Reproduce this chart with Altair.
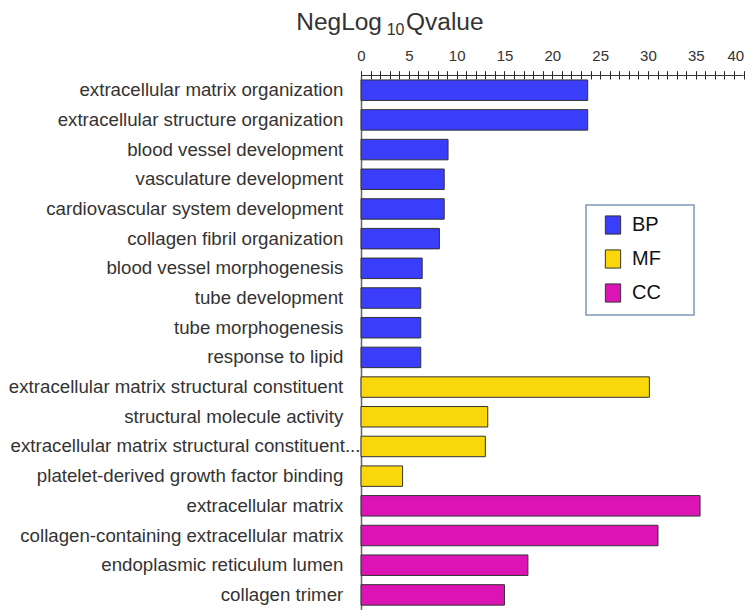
import altair as alt
import pandas as pd

terms = [
    "extracellular matrix organization",
    "extracellular structure organization",
    "blood vessel development",
    "vasculature development",
    "cardiovascular system development",
    "collagen fibril organization",
    "blood vessel morphogenesis",
    "tube development",
    "tube morphogenesis",
    "response to lipid",
    "extracellular matrix structural constituent",
    "structural molecule activity",
    "extracellular matrix structural constituent...",
    "platelet-derived growth factor binding",
    "extracellular matrix",
    "collagen-containing extracellular matrix",
    "endoplasmic reticulum lumen",
    "collagen trimer",
]
values = [23.7, 23.7, 9.1, 8.7, 8.7, 8.2, 6.4, 6.25, 6.25, 6.25,
          30.15, 13.25, 13.0, 4.35,
          35.45, 31.05, 17.45, 15.0]
categories = ["BP"] * 10 + ["MF"] * 4 + ["CC"] * 4
category_order = ["BP", "MF", "CC"]
category_colors = ["#3a3dfa", "#f9d70b", "#dc14b5"]
x_ticks = list(range(0, 41))
title_parts = ["NegLog", "10", "Qvalue"]
truncated_term = terms[12]

df = pd.DataFrame({"term": terms, "value": values, "category": categories})

FONT = "Liberation Sans"
LABEL_SIZE = 18.7

y_sort = terms

x_scale = alt.Scale(domain=[0, 40], nice=False, zero=True)
x_axis = alt.Axis(orient="top", values=x_ticks, title=None, grid=False,
                  domain=False, offset=-3.5, tickSize=8.3,
                  tickColor="#222222", tickWidth=1,
                  labelExpr="datum.value % 5 === 0 ? datum.label : ''",
                  labelOverlap=False, labelPadding=7, labelFontSize=15,
                  labelColor="#333333", labelFont=FONT,
                  labelAlign={"condition": {"test": "datum.value === 40", "value": "right"},
                              "value": "center"})

bars = alt.Chart(df).mark_bar(stroke="#333333", strokeWidth=1).encode(
    y=alt.Y("term:N", sort=y_sort,
            scale=alt.Scale(paddingInner=0.31, paddingOuter=0.15),
            axis=alt.Axis(labels=False, ticks=False, title=None, grid=False,
                          domainColor="#666666", domainWidth=1.5)),
    x=alt.X("value:Q", scale=x_scale, axis=x_axis),
    color=alt.Color("category:N",
                    scale=alt.Scale(domain=category_order, range=category_colors),
                    legend=alt.Legend(title=None, orient="none", legendX=225, legendY=129.5,
                                      direction="vertical",
                                      labelExpr="datum.label + '\u00a0\u00a0\u00a0\u00a0\u200b'")),
)

labels = alt.Chart(df).transform_filter(
    alt.datum.term != truncated_term
).mark_text(align="right", baseline="middle", dx=-17.7, font=FONT,
            fontSize=LABEL_SIZE, color="#333333").encode(
    y=alt.Y("term:N", sort=y_sort),
    x=alt.XDatum(0, scale=x_scale, axis=x_axis),
    text="term:N",
)

label_trunc = alt.Chart(df).transform_filter(
    alt.datum.term == truncated_term
).mark_text(align="right", baseline="middle", dx=-0.5, font=FONT,
            fontSize=LABEL_SIZE, color="#333333").encode(
    y=alt.Y("term:N", sort=y_sort),
    x=alt.XDatum(0, scale=x_scale, axis=x_axis),
    text="term:N",
)

axis_line = alt.Chart(pd.DataFrame({"lo": [x_ticks[0]], "hi": [x_ticks[-1]]})).mark_rule(
    color="#333333", strokeWidth=1
).encode(x=alt.X("lo:Q", scale=x_scale, axis=x_axis), x2="hi:Q", y=alt.value(0))

t1 = alt.Chart(pd.DataFrame({"t": [title_parts[0]]})).mark_text(
    align="right", baseline="alphabetic", font=FONT, fontSize=24.5, color="#333333"
).encode(text="t:N", x=alt.value(21), y=alt.value(-45.3))
t2 = alt.Chart(pd.DataFrame({"t": [title_parts[1]]})).mark_text(
    align="left", baseline="alphabetic", font=FONT, fontSize=16, color="#333333"
).encode(text="t:N", x=alt.value(25.7), y=alt.value(-40))
t3 = alt.Chart(pd.DataFrame({"t": [title_parts[2]]})).mark_text(
    align="left", baseline="alphabetic", font=FONT, fontSize=24.5, color="#333333"
).encode(text="t:N", x=alt.value(45), y=alt.value(-45.3))

chart = alt.layer(bars, labels, label_trunc, axis_line, t1, t2, t3).properties(
    width=382.6, height=534.1, autosize="none",
    padding={"left": 353, "top": 67.5, "right": 2.4, "bottom": 0},
).configure_view(stroke=None).configure_legend(
    padding=10, strokeColor="#8195bb", strokeWidth=1.5, fillColor="white",
    symbolType="M-0.842,-1H0.842V1H-0.842Z", symbolSize=330,
    symbolStrokeColor="#333333", symbolStrokeWidth=1, symbolOffset=7,
    labelOffset=9, labelFontSize=20, labelFont=FONT, labelColor="#111111",
    rowPadding=10, symbolOpacity=1,
)

chart.save("out.html", embed_options={"renderer": "svg", "actions": False})
